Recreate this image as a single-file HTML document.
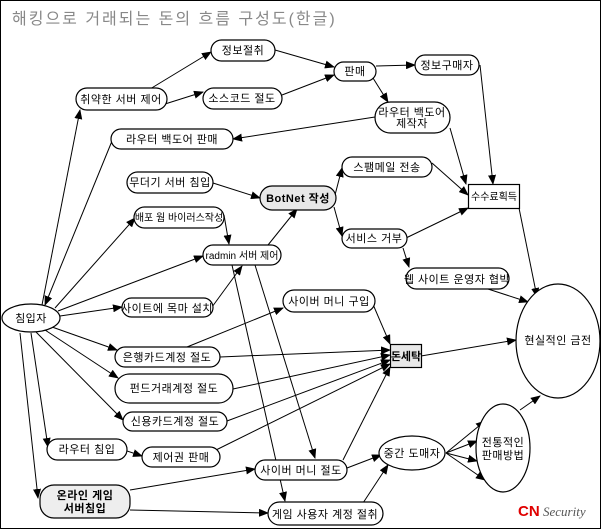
<!DOCTYPE html>
<html><head><meta charset="utf-8"><style>
html,body{margin:0;padding:0;background:#fff}
svg{display:block}
text{font-family:"Liberation Sans","Noto Sans CJK KR","NanumGothic",sans-serif;font-size:11px;fill:#000;letter-spacing:0.5px}
</style></head><body>
<svg width="602" height="530" viewBox="0 0 602 530" xmlns="http://www.w3.org/2000/svg">
<defs><marker id="a" markerWidth="10" markerHeight="8" refX="9" refY="4" orient="auto" markerUnits="userSpaceOnUse"><path d="M0,0 L10,4 L0,8 Z" fill="#000"/></marker></defs>
<rect x="0.5" y="0.5" width="600" height="528" fill="#fff" stroke="#000"/>
<text x="12" y="24" style="font-size:16px;fill:#888;letter-spacing:2px">해킹으로 거래되는 돈의 흐름 구성도(한글)</text>
<g stroke="#000" stroke-width="1" fill="none" marker-end="url(#a)">
<line x1="42" y1="305" x2="80" y2="110"/>
<line x1="112" y1="141" x2="45" y2="305"/>
<line x1="55" y1="308" x2="135" y2="218"/>
<line x1="58" y1="311" x2="203" y2="256"/>
<line x1="60" y1="316" x2="122" y2="307"/>
<line x1="52" y1="327" x2="117" y2="350"/>
<line x1="45" y1="330" x2="118" y2="378"/>
<line x1="36" y1="332" x2="123" y2="420"/>
<line x1="31" y1="333" x2="48" y2="447"/>
<line x1="20" y1="333" x2="38" y2="498"/>
<line x1="150" y1="89" x2="211" y2="52"/>
<line x1="165" y1="104" x2="203" y2="92"/>
<line x1="275" y1="50" x2="334" y2="67"/>
<line x1="282" y1="95" x2="334" y2="75"/>
<line x1="376" y1="66" x2="415" y2="65"/>
<line x1="373" y1="78" x2="388" y2="102"/>
<line x1="375" y1="117" x2="233" y2="139"/>
<line x1="480" y1="65" x2="493" y2="184"/>
<line x1="450" y1="128" x2="466" y2="184"/>
<line x1="432" y1="163" x2="468" y2="195"/>
<line x1="406" y1="238" x2="468" y2="208"/>
<line x1="519" y1="208" x2="537" y2="297"/>
<line x1="213" y1="183" x2="260" y2="198"/>
<line x1="335" y1="195" x2="342" y2="168"/>
<line x1="334" y1="207" x2="342" y2="236"/>
<line x1="403" y1="248" x2="409" y2="267"/>
<line x1="488" y1="289" x2="528" y2="302"/>
<line x1="224" y1="215" x2="229" y2="244"/>
<line x1="268" y1="245" x2="297" y2="209"/>
<line x1="212" y1="307" x2="242" y2="266"/>
<line x1="255" y1="265" x2="315" y2="458"/>
<line x1="232" y1="265" x2="285" y2="501"/>
<line x1="372" y1="302" x2="390" y2="344"/>
<line x1="187" y1="347" x2="283" y2="308"/>
<line x1="220" y1="357" x2="390" y2="350"/>
<line x1="233" y1="389" x2="390" y2="355"/>
<line x1="227" y1="421" x2="390" y2="360"/>
<line x1="216" y1="450" x2="390" y2="364"/>
<line x1="343" y1="460" x2="390" y2="367"/>
<line x1="421" y1="356" x2="516" y2="340"/>
<line x1="347" y1="468" x2="381" y2="455"/>
<line x1="363" y1="503" x2="388" y2="465"/>
<line x1="446" y1="453" x2="485" y2="421"/>
<line x1="446" y1="453" x2="477" y2="441"/>
<line x1="446" y1="453" x2="477" y2="461"/>
<line x1="446" y1="453" x2="485" y2="480"/>
<line x1="520" y1="410" x2="540" y2="396"/>
<line x1="127" y1="451" x2="142" y2="456"/>
<line x1="130" y1="490" x2="255" y2="469"/>
<line x1="130" y1="510" x2="268" y2="513"/>
</g>
<g stroke="#000" stroke-width="1.2" fill="#fff">
<rect x="211" y="40" width="64" height="21" rx="10.5"/>
<rect x="76" y="88" width="91" height="22" rx="11"/>
<rect x="203" y="88" width="79" height="21" rx="10.5"/>
<rect x="334" y="62" width="42" height="19" rx="9.5"/>
<rect x="415" y="55" width="64" height="20" rx="10"/>
<rect x="375" y="102" width="75" height="31" rx="15.5"/>
<rect x="111" y="129" width="122" height="20" rx="10"/>
<rect x="127" y="172" width="86" height="21" rx="10.5"/>
<rect x="260" y="186" width="76" height="24" rx="12" fill="#e8e8e8"/>
<rect x="342" y="157" width="90" height="20" rx="10"/>
<rect x="468.5" y="184.5" width="51" height="24"/>
<rect x="134" y="207" width="90" height="21" rx="10.5"/>
<rect x="342" y="229" width="65" height="19" rx="9.5"/>
<rect x="203" y="245" width="78" height="20" rx="10"/>
<rect x="406" y="268" width="103" height="21" rx="10.5"/>
<ellipse cx="31" cy="318" rx="29" ry="14"/>
<rect x="122" y="298" width="91" height="19" rx="9.5"/>
<rect x="283" y="290" width="92" height="22" rx="11"/>
<ellipse cx="558" cy="341" rx="42" ry="57"/>
<rect x="390.5" y="344.5" width="31" height="23" fill="#e8e8e8"/>
<rect x="115" y="347" width="105" height="20" rx="10"/>
<rect x="115" y="374" width="118" height="29" rx="14.5"/>
<rect x="123" y="412" width="104" height="19" rx="9.5"/>
<rect x="47" y="439" width="80" height="21" rx="10.5"/>
<rect x="142" y="447" width="78" height="20" rx="10"/>
<rect x="255" y="460" width="92" height="20" rx="10"/>
<ellipse cx="412" cy="453" rx="33" ry="17"/>
<ellipse cx="503" cy="448" rx="27" ry="44"/>
<rect x="40" y="485" width="90" height="33" rx="14" fill="#eeeeee"/>
<rect x="268" y="502" width="115" height="23" rx="11.5"/>
</g>
<g text-anchor="middle">
<text x="243" y="54">정보절취</text>
<text x="121" y="103">취약한 서버 제어</text>
<text x="242" y="102">소스코드 절도</text>
<text x="355" y="75">판매</text>
<text x="447" y="69">정보구매자</text>
<text x="412" y="116">라우터 백도어</text>
<text x="412" y="127">제작자</text>
<text x="172" y="143">라우터 백도어 판매</text>
<text x="170" y="186">무더기 서버 침입</text>
<text x="298" y="202" style="font-weight:bold">BotNet 작성</text>
<text x="387" y="171">스팸메일 전송</text>
<text x="494" y="200" style="font-size:10px;letter-spacing:0">수수료획득</text>
<text x="179" y="221" style="font-size:10px;letter-spacing:0">배포 웜 바이러스작성</text>
<text x="374" y="242">서비스 거부</text>
<text x="242" y="259" style="font-size:10px;letter-spacing:0">radmin 서버 제어</text>
<text x="457" y="283">웹 사이트 운영자 협박</text>
<text x="31" y="322">침입자</text>
<text x="167" y="312">사이트에 목마 설치</text>
<text x="329" y="305">사이버 머니 구입</text>
<text x="558" y="344">현실적인 금전</text>
<text x="406" y="360" style="font-weight:bold;letter-spacing:0">돈세탁</text>
<text x="167" y="361">은행카드계정 절도</text>
<text x="174" y="392">펀드거래계정 절도</text>
<text x="175" y="425">신용카드계정 절도</text>
<text x="87" y="453">라우터 침입</text>
<text x="181" y="461">제어권 판매</text>
<text x="301" y="474">사이버 머니 절도</text>
<text x="412" y="457">중간 도매자</text>
<text x="503" y="446">전통적인</text>
<text x="503" y="459">판매방법</text>
<text x="85" y="499" style="font-weight:bold">온라인 게임</text>
<text x="85" y="512" style="font-weight:bold">서버침입</text>
<text x="325" y="518">게임 사용자 계정 절취</text>
</g>
<text x="518" y="516" style="font-size:15px;font-weight:bold;fill:#e00000;letter-spacing:0">CN</text>
<text x="543" y="516" style="font-family:'Liberation Serif',serif;font-style:italic;font-size:13px;fill:#555;letter-spacing:0">Security</text>
</svg>
</body></html>
